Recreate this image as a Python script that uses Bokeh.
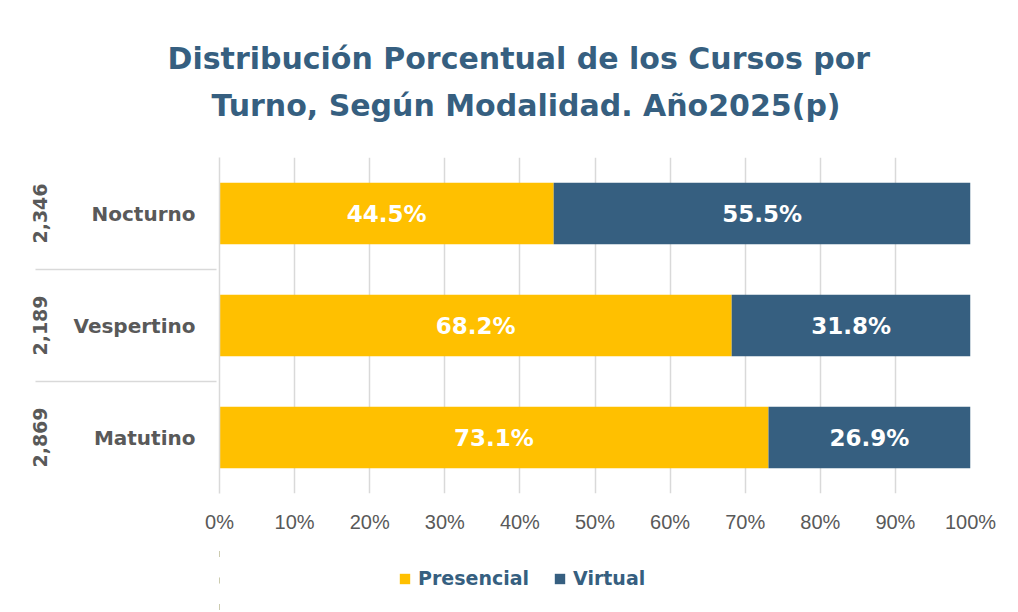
from bokeh.plotting import figure
from bokeh.layouts import column
from bokeh.models import (ColumnDataSource, FactorRange, Range1d, FixedTicker,
                          NumeralTickFormatter, LabelSet, Title, Legend, LegendItem)
from bokeh.core.properties import value
from bokeh.embed import file_html
from bokeh.resources import INLINE

# ---- data ----
turnos = ["Matutino", "Vespertino", "Nocturno"]
totales = ["2,869", "2,189", "2,346"]
presencial = [73.1, 68.2, 44.5]
virtual = [26.9, 31.8, 55.5]
series = ["Presencial", "Virtual"]
colors = ["#FFC000", "#365F80"]
title_lines = ["Distribución Porcentual de los Cursos por",
               "Turno, Según Modalidad. Año2025(p)"]
x_ticks = [i / 10 for i in range(11)]

BLUE = "#365F80"
GREY = "#595959"
LIGHT = "#D9D9D9"

factors = list(zip(totales, turnos))
src = ColumnDataSource(dict(
    y=factors,
    Presencial=[v / 100 for v in presencial],
    Virtual=[v / 100 for v in virtual],
))

p = figure(y_range=FactorRange(*factors, factor_padding=0, group_padding=0, range_padding=0),
           x_range=Range1d(0, 1),
           frame_width=751, frame_height=336,
           min_border_left=219, min_border_right=48,
           min_border_top=157, min_border_bottom=55,
           output_backend="svg", toolbar_location=None,
           background_fill_color="white", border_fill_color="white")
p.outline_line_color = None

rs = p.hbar_stack(series, y="y", height=0.55, color=colors, source=src, line_color=None)

# data labels
lab_src = ColumnDataSource(dict(
    y=factors * 2,
    x=[v / 200 for v in presencial] + [(a + b / 2) / 100 for a, b in zip(presencial, virtual)],
    t=[f"{v:.1f}%" for v in presencial] + [f"{v:.1f}%" for v in virtual],
))
p.add_layout(LabelSet(x="x", y="y", text="t", source=lab_src,
                      text_align="center", text_baseline="middle",
                      text_color="white", text_font=value("DejaVu Sans"),
                      text_font_style="bold", text_font_size="23px"))

# x axis
p.xaxis.ticker = FixedTicker(ticks=x_ticks)
p.xaxis.formatter = NumeralTickFormatter(format="0%")
p.xaxis.axis_line_color = None
p.xaxis.major_tick_line_color = None
p.xaxis.minor_tick_line_color = None
p.xaxis.major_tick_out = 0
p.xaxis.major_label_standoff = 17
p.xaxis.major_label_text_font = "Liberation Sans"
p.xaxis.major_label_text_font_size = "20px"
p.xaxis.major_label_text_color = GREY

p.xgrid.ticker = FixedTicker(ticks=x_ticks)
p.xgrid.grid_line_color = LIGHT
p.xgrid.grid_line_width = 1.5
p.ygrid.grid_line_color = None

# y axis (nested categories)
ya = p.yaxis[0]
ya.axis_line_color = LIGHT
ya.axis_line_width = 1.5
ya.major_tick_line_color = None
ya.minor_tick_line_color = None
ya.major_tick_out = 0
ya.major_label_standoff = 24
ya.major_label_text_font = "DejaVu Sans"
ya.major_label_text_font_style = "bold"
ya.major_label_text_font_size = "20px"
ya.major_label_text_color = GREY
ya.group_label_orientation = "parallel"
ya.group_text_font = "DejaVu Sans"
ya.group_text_font_style = "bold"
ya.group_text_font_size = "19px"
ya.group_text_color = GREY
ya.separator_line_color = LIGHT
ya.separator_line_width = 1.5

# title (two lines; second line added first so it sits closest to the plot)
t2 = Title(text=title_lines[1], align="left", offset=-8, standoff=69,
           text_font="DejaVu Sans", text_font_style="bold",
           text_font_size="30px", text_color=BLUE)
t1 = Title(text=title_lines[0], align="left", offset=-52, standoff=0,
           text_font="DejaVu Sans", text_font_style="bold",
           text_font_size="30px", text_color=BLUE)
try:
    t1.standoff = -48
except Exception:
    try:
        t1.standoff = -30
    except Exception:
        pass
p.add_layout(t2, "above")
p.add_layout(t1, "above")

# legend strip below the chart (its swatches come from the same series, kept out of view)
p2 = figure(width=1018, height=64, x_range=Range1d(2, 3),
            y_range=FactorRange(*factors),
            min_border=0, x_axis_type=None, y_axis_type=None,
            output_backend="svg", toolbar_location=None,
            background_fill_color="white", border_fill_color="white")
p2.outline_line_color = None
p2.grid.visible = False
swatches = p2.hbar_stack(series, y="y", height=0.55, color=colors, source=src, line_color=None)
legend = Legend(items=[LegendItem(label=s, renderers=[r]) for s, r in zip(series, swatches)],
                location=(179, 23), orientation="horizontal",
                glyph_width=13, glyph_height=13, label_standoff=7, spacing=24,
                padding=0, margin=0, border_line_color=None, background_fill_alpha=0,
                label_text_font="DejaVu Sans", label_text_font_style="bold",
                label_text_font_size="19px", label_text_color=BLUE)
p2.add_layout(legend, "center")

open("out.html", "w").write(file_html(column(p, p2), INLINE))
